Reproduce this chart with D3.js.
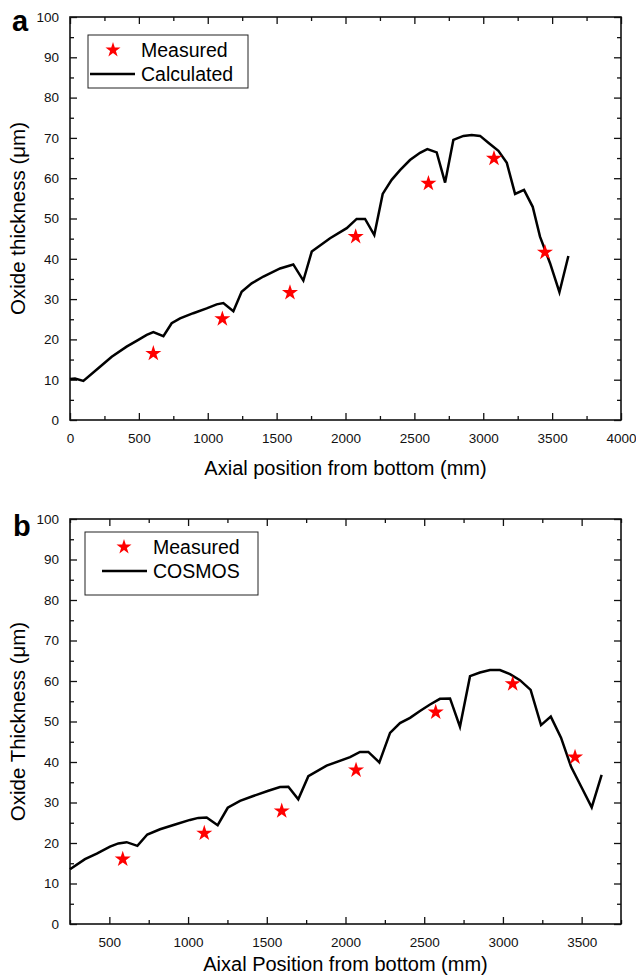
<!DOCTYPE html>
<html>
<head>
<meta charset="utf-8">
<script src="https://cdn.jsdelivr.net/npm/d3@7.9.0/dist/d3.min.js"></script>
<style>
  body { margin: 0; background: #fff; }
  svg { display: block; font-family: "Liberation Sans", Arial, sans-serif; }
  .tick text { font-size: 13.5px; fill: #111; }
</style>
</head>
<body>
<svg width="636" height="975"></svg>
<script>
// panel a: calculated oxide profile (mm, um)
const calcPos = [0, 36, 97, 218, 303, 411, 496, 557, 605, 678, 738, 799, 895, 992, 1065, 1113, 1186, 1246,
  1319, 1404, 1525, 1621, 1694, 1755, 1888, 2009, 2081, 2142, 2209, 2270, 2335, 2396, 2468, 2541, 2594,
  2662, 2723, 2783, 2856, 2916, 2977, 3037, 3110, 3171, 3231, 3296, 3359, 3412, 3485, 3553, 3618];
const calcThick = [10.2, 10.3, 9.7, 13.2, 15.7, 18.2, 19.9, 21.1, 21.8, 20.8, 24.0, 25.2, 26.5, 27.7, 28.7, 29.0,
  27.0, 31.8, 33.9, 35.6, 37.6, 38.6, 34.6, 41.8, 45.1, 47.6, 49.9, 49.9, 45.9, 56.1, 59.6, 62.0, 64.5,
  66.3, 67.2, 66.4, 58.9, 69.5, 70.5, 70.7, 70.5, 68.8, 66.8, 63.8, 56.1, 57.1, 52.9, 45.5, 38.9, 31.7, 40.7];
const measPosA = [605, 1106, 1597, 2074, 2602, 3078, 3448];
const measThickA = [16.5, 25.1, 31.6, 45.5, 58.7, 64.9, 41.6];

// panel b: COSMOS profile
const cosmosPos = [250, 345, 420, 504, 557, 610, 678, 741, 822, 928, 1012, 1065, 1118, 1188, 1252, 1330, 1414,
  1510, 1584, 1637, 1700, 1764, 1880, 2029, 2092, 2145, 2215, 2283, 2346, 2410, 2473, 2537, 2600, 2664,
  2727, 2791, 2854, 2918, 2981, 3045, 3108, 3176, 3242, 3304, 3369, 3433, 3500, 3564, 3627];
const cosmosThick = [13.5, 16.0, 17.4, 19.1, 19.9, 20.2, 19.3, 22.1, 23.4, 24.7, 25.7, 26.2, 26.3, 24.4, 28.7,
  30.4, 31.6, 32.9, 33.8, 33.9, 30.8, 36.5, 39.1, 41.2, 42.5, 42.5, 39.9, 47.2, 49.6, 50.9, 52.6, 54.2,
  55.6, 55.7, 48.7, 61.2, 62.1, 62.7, 62.7, 61.7, 60.2, 57.8, 49.1, 51.2, 46.0, 38.8, 33.7, 28.8, 36.8];
const measPosB = [585, 1103, 1595, 2067, 2573, 3062, 3458];
const measThickB = [16.0, 22.4, 27.9, 38.0, 52.3, 59.3, 41.2];

const yTicks = d3.range(0, 101, 10);
const yMinor = d3.range(5, 100, 10);

const svg = d3.select('svg');
const fmt = d3.format('d');

function drawPanel(cfg) {
  const x = d3.scaleLinear().domain(cfg.xDomain).range([cfg.left, cfg.right]);
  const y = d3.scaleLinear().domain([0, 100]).range([cfg.bottom, cfg.top]);
  const g = svg.append('g');

  // minor ticks on all four sides
  const minor = (axis) => axis.tickSizeInner(-4).tickSizeOuter(0).tickFormat('');
  g.append('g').attr('transform', `translate(0,${cfg.bottom})`)
    .call(minor(d3.axisBottom(x).tickValues(cfg.xMinor)));
  g.append('g').attr('transform', `translate(0,${cfg.top})`)
    .call(minor(d3.axisTop(x).tickValues(cfg.xMinor)));
  g.append('g').attr('transform', `translate(${cfg.left},0)`)
    .call(minor(d3.axisLeft(y).tickValues(yMinor)));
  g.append('g').attr('transform', `translate(${cfg.right},0)`)
    .call(minor(d3.axisRight(y).tickValues(yMinor)));

  // major ticks
  g.append('g').attr('transform', `translate(0,${cfg.bottom})`)
    .call(d3.axisBottom(x).tickValues(cfg.xTicks).tickFormat(fmt)
      .tickSizeInner(-7).tickSizeOuter(0).tickPadding(13));
  g.append('g').attr('transform', `translate(0,${cfg.top})`)
    .call(d3.axisTop(x).tickValues(cfg.xTicks).tickSizeInner(-7).tickSizeOuter(0).tickFormat(''));
  g.append('g').attr('transform', `translate(${cfg.left},0)`)
    .call(d3.axisLeft(y).tickValues(yTicks).tickFormat(fmt)
      .tickSizeInner(-7).tickSizeOuter(0).tickPadding(11));
  g.append('g').attr('transform', `translate(${cfg.right},0)`)
    .call(d3.axisRight(y).tickValues(yTicks).tickSizeInner(-7).tickSizeOuter(0).tickFormat(''));

  g.selectAll('.domain').remove();
  g.selectAll('.tick line').attr('stroke', '#111').attr('stroke-width', 1.3);

  g.append('rect')
    .attr('x', cfg.left).attr('y', cfg.top)
    .attr('width', cfg.right - cfg.left).attr('height', cfg.bottom - cfg.top)
    .attr('fill', 'none').attr('stroke', '#111').attr('stroke-width', 1.6);

  const line = d3.line().x((d) => x(d[0])).y((d) => y(d[1]));
  g.append('path')
    .datum(d3.zip(cfg.linePos, cfg.lineVal))
    .attr('d', line)
    .attr('fill', 'none').attr('stroke', '#000').attr('stroke-width', 2.5)
    .attr('stroke-linejoin', 'miter');

  const star = d3.symbol().type(d3.symbolStar).size(80);
  g.selectAll('.star')
    .data(d3.zip(cfg.measPos, cfg.measVal))
    .join('path')
    .attr('class', 'star')
    .attr('d', star)
    .attr('fill', '#f00')
    .attr('transform', (d) => `translate(${x(d[0])},${y(d[1])})`);

  // legend
  const L = cfg.legend;
  g.append('rect')
    .attr('x', L.x).attr('y', L.y).attr('width', L.w).attr('height', L.h)
    .attr('fill', '#fff').attr('stroke', '#222').attr('stroke-width', 1);
  g.append('path').attr('d', d3.symbol().type(d3.symbolStar).size(70))
    .attr('fill', '#f00')
    .attr('transform', `translate(${L.starX},${L.y + 15})`);
  g.append('line')
    .attr('x1', L.lineX1).attr('x2', L.lineX2)
    .attr('y1', L.y + 39).attr('y2', L.y + 39)
    .attr('stroke', '#000').attr('stroke-width', 2.5);
  g.append('text').attr('x', L.textX).attr('y', L.y + 15).attr('dy', '0.36em')
    .attr('font-size', 19.5).text('Measured');
  g.append('text').attr('x', L.textX).attr('y', L.y + 39).attr('dy', '0.36em')
    .attr('font-size', 19.5).text(cfg.lineName);

  // axis titles and panel letter
  g.append('text')
    .attr('x', (cfg.left + cfg.right) / 2).attr('y', cfg.bottom + cfg.xTitleGap)
    .attr('text-anchor', 'middle').attr('font-size', 20).text(cfg.xTitle);
  g.append('text')
    .attr('transform', `translate(25,${(cfg.top + cfg.bottom) / 2}) rotate(-90)`)
    .attr('text-anchor', 'middle').attr('font-size', 20.5).text(cfg.yTitle);
  g.append('text')
    .attr('x', cfg.letterX).attr('y', cfg.letterY)
    .attr('font-size', 29).attr('font-weight', 'bold').text(cfg.letter);
}

drawPanel({
  left: 70, right: 621, top: 17, bottom: 420,
  xDomain: [0, 4000],
  xTicks: d3.range(0, 4001, 500),
  xMinor: d3.range(250, 4000, 500),
  linePos: calcPos, lineVal: calcThick,
  measPos: measPosA, measVal: measThickA,
  lineName: 'Calculated',
  legend: { x: 88, y: 35, w: 160, h: 53, starX: 113, lineX1: 90, lineX2: 135, textX: 141 },
  xTitle: 'Axial position from bottom (mm)', xTitleGap: 55,
  yTitle: 'Oxide thickness (μm)',
  letter: 'a', letterX: 12, letterY: 31
});

drawPanel({
  left: 70, right: 621, top: 519, bottom: 924,
  xDomain: [250, 3750],
  xTicks: d3.range(500, 3501, 500),
  xMinor: d3.range(250, 3751, 500),
  linePos: cosmosPos, lineVal: cosmosThick,
  measPos: measPosB, measVal: measThickB,
  lineName: 'COSMOS',
  legend: { x: 85, y: 532, w: 173, h: 63, starX: 124, lineX1: 102, lineX2: 147, textX: 153 },
  xTitle: 'Aixal Position from bottom (mm)', xTitleGap: 47,
  yTitle: 'Oxide Thickness (μm)',
  letter: 'b', letterX: 13, letterY: 536
});
</script>
</body>
</html>
